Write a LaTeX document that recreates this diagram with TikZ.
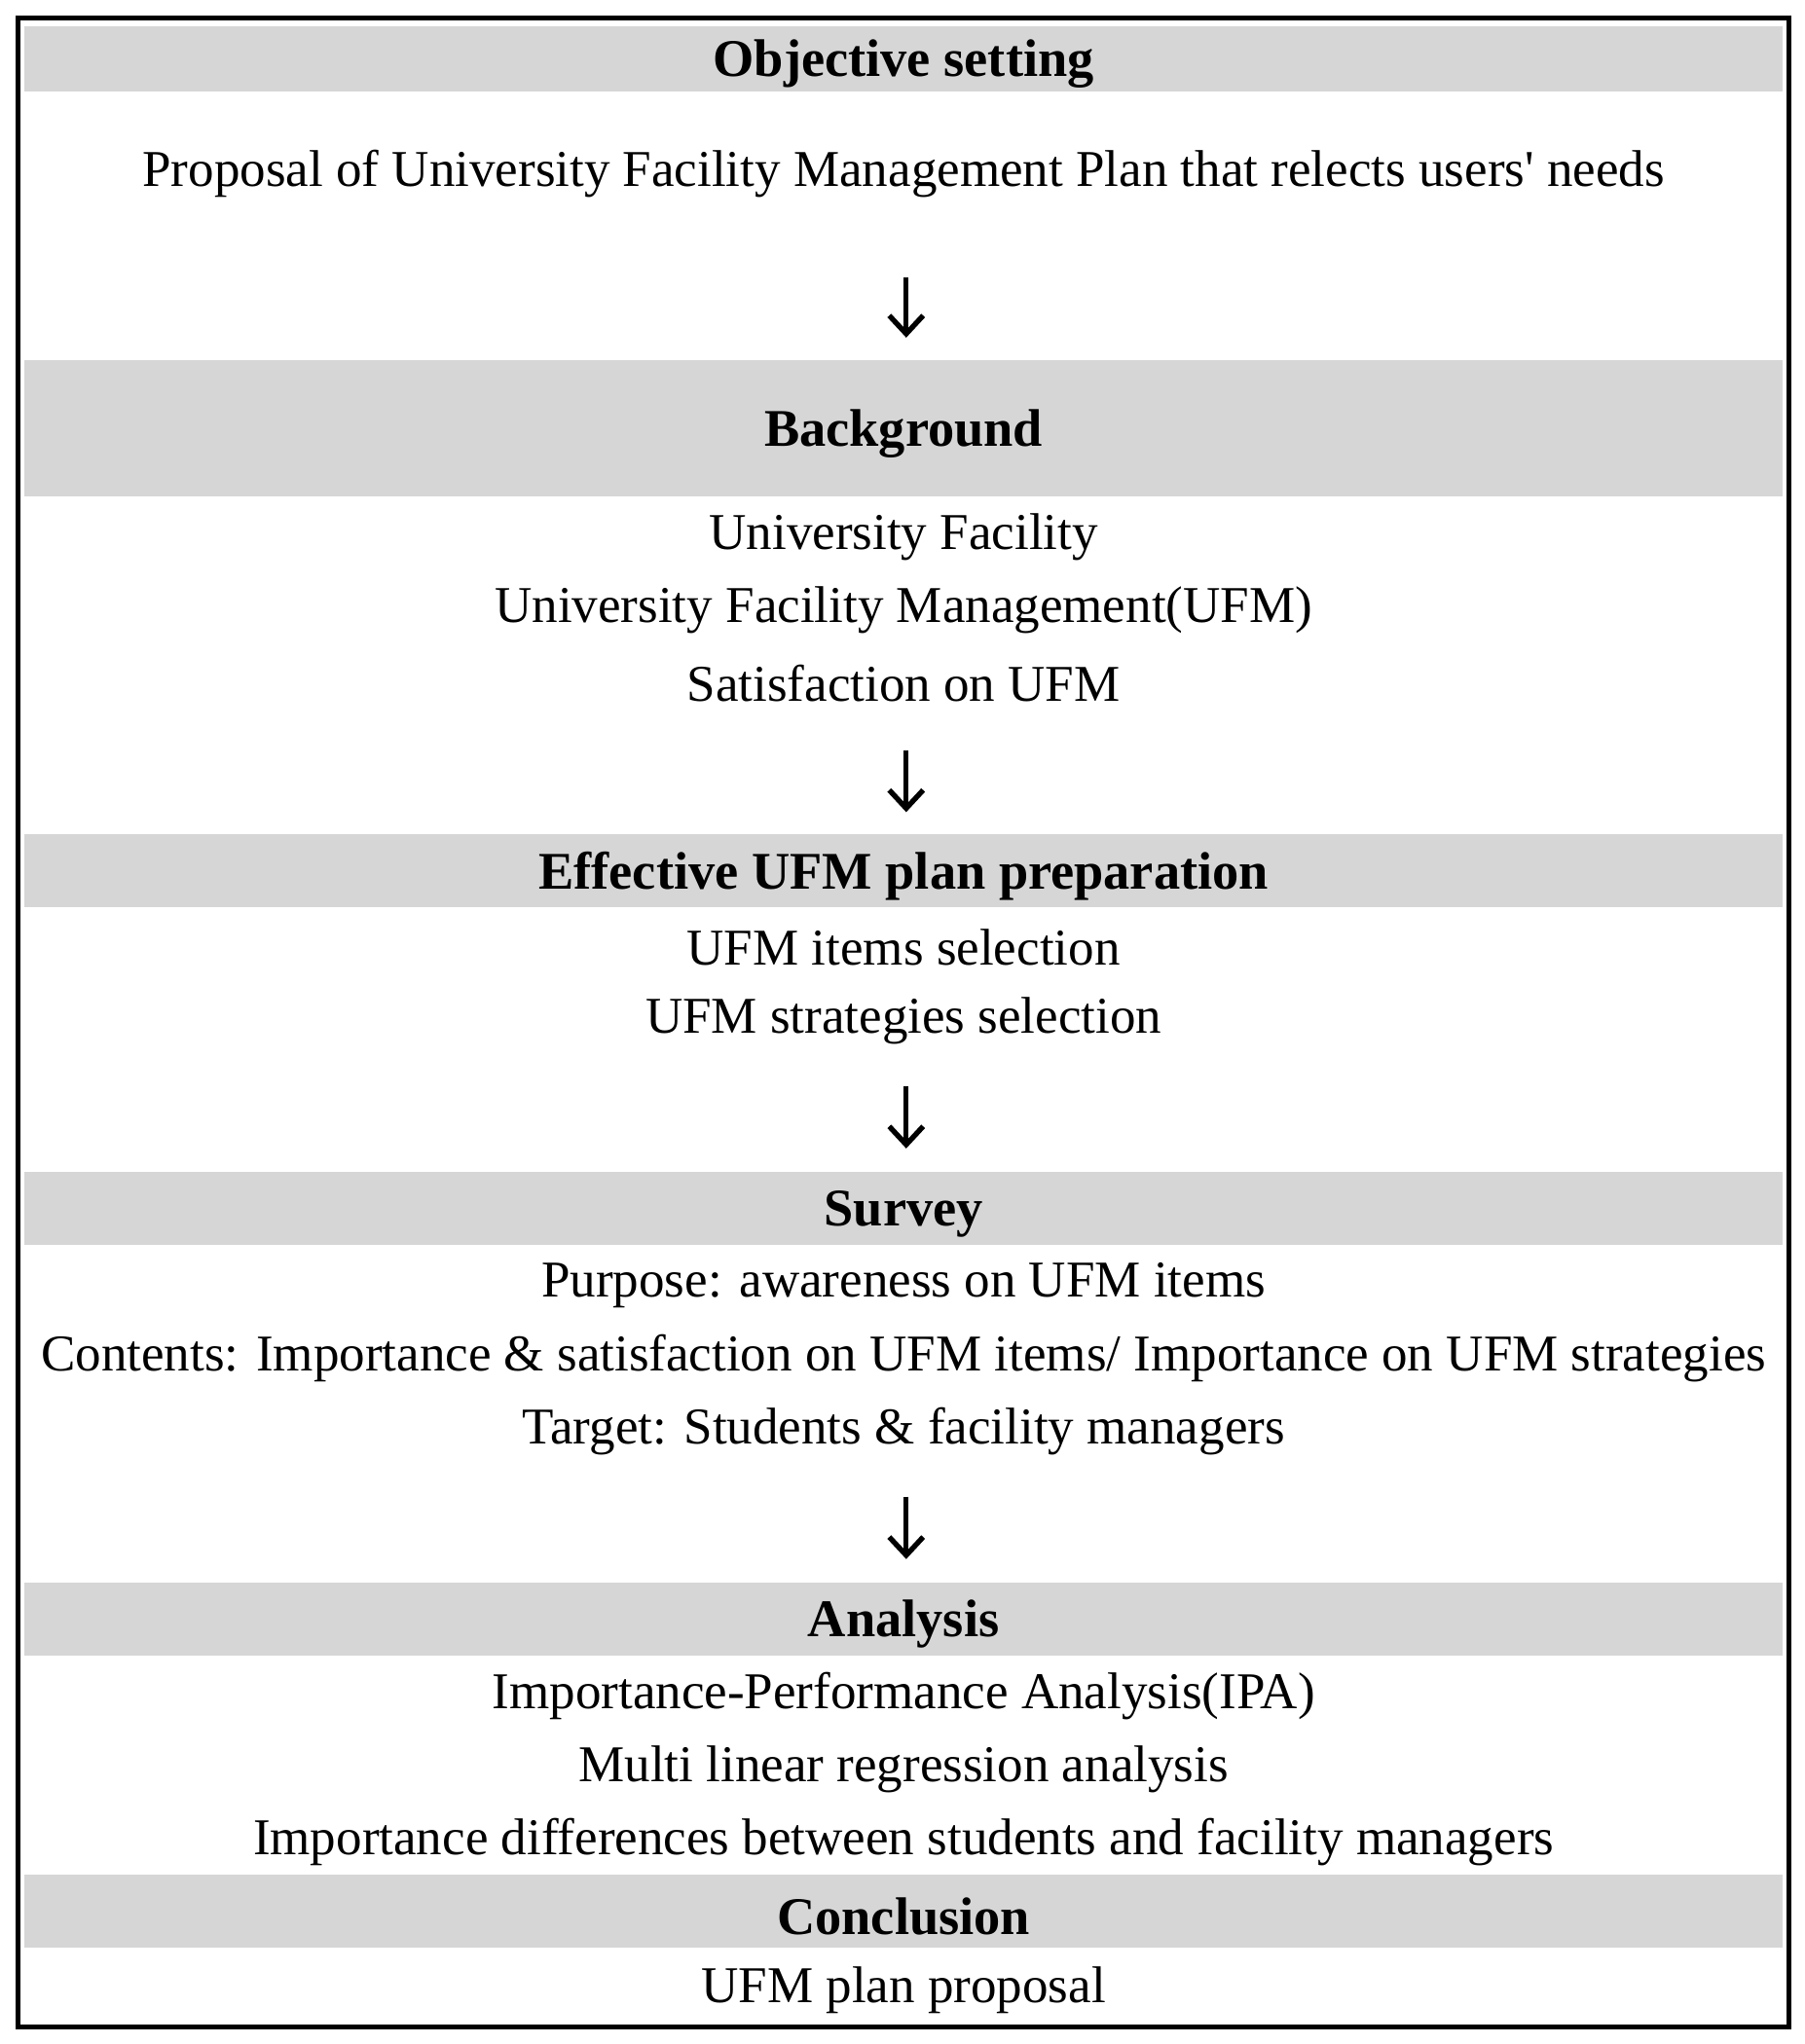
\documentclass[tikz,border=0pt]{standalone}
\usepackage{fontspec}
\setmainfont{Liberation Serif}
\usetikzlibrary{arrows.meta}
\definecolor{bandgray}{HTML}{D6D6D6}
\begin{document}
\begin{tikzpicture}[x=0.5pt,y=-0.5pt,
  band/.style={fill=bandgray, draw=none, minimum width=674pt, inner sep=0pt},
  head/.style={inner sep=0pt, yshift=-2pt, font=\fontsize{20.3}{24}\selectfont\bfseries},
  body/.style={inner sep=0pt, yshift=-1.5pt, font=\fontsize{19.8}{24}\selectfont},
  flow/.style={line width=2pt, -{Straight Barb[length=7pt,width=13pt,line width=2pt]}}]
\useasboundingbox (0,0) rectangle (1384,1568);
\fill[white] (0,0) rectangle (1384,1568);
% bands
\node[band, minimum height=25pt] (b1) at (693,45) {};
\node[band, minimum height=52.5pt] (b2) at (693,328.5) {};
\node[band, minimum height=28pt] (b3) at (693,668) {};
\node[band, minimum height=28pt] (b4) at (693,927) {};
\node[band, minimum height=28pt] (b5) at (693,1242) {};
\node[band, minimum height=28pt] (b6) at (693,1466) {};
% headings
\node[head] (h1) at (b1) {Objective setting};
\node[head] (h2) at (b2) {Background};
\node[head] (h3) at (b3) {Effective UFM plan preparation};
\node[head] (h4) at (b4) {Survey};
\node[head] (h5) at (b5) {Analysis};
\node[head] (h6) at (b6) {Conclusion};
% body texts
\node[body] (t1) at (693,130) {Proposal of University Facility Management Plan that relects users\textquotesingle\ needs};
\node[body] (t2a) at (693,409) {University Facility};
\node[body] (t2b) at (693,465) {University Facility Management(UFM)};
\node[body] (t2c) at (693,521) {Satisfaction on UFM};
\node[body] (t3a) at (693,724) {UFM items selection};
\node[body] (t3b) at (693,780) {UFM strategies selection};
\node[body] (t4a) at (693,983) {Purpose: awareness on UFM items};
\node[body] (t4b) at (693,1039) {Contents: Importance \& satisfaction on UFM items/ Importance on UFM strategies};
\node[body] (t4c) at (693,1095) {Target: Students \& facility managers};
\node[body] (t5a) at (693,1298) {Importance-Performance Analysis(IPA)};
\node[body] (t5b) at (693,1354) {Multi linear regression analysis};
\node[body] (t5c) at (693,1410) {Importance differences between students and facility managers};
\node[body] (t6) at (693,1524) {UFM plan proposal};
% arrows
\coordinate (a1s) at (695,213); \coordinate (a1e) at (695,259);
\coordinate (a2s) at (695,576); \coordinate (a2e) at (695,623);
\coordinate (a3s) at (695,833); \coordinate (a3e) at (695,881);
\coordinate (a4s) at (695,1148); \coordinate (a4e) at (695,1196);
\draw[flow] (a1s) -- (a1e);
\draw[flow] (a2s) -- (a2e);
\draw[flow] (a3s) -- (a3e);
\draw[flow] (a4s) -- (a4e);
% outer frame
\draw[line width=1.8pt] (14,14) rectangle (1372,1555);
\end{tikzpicture}
\end{document}
